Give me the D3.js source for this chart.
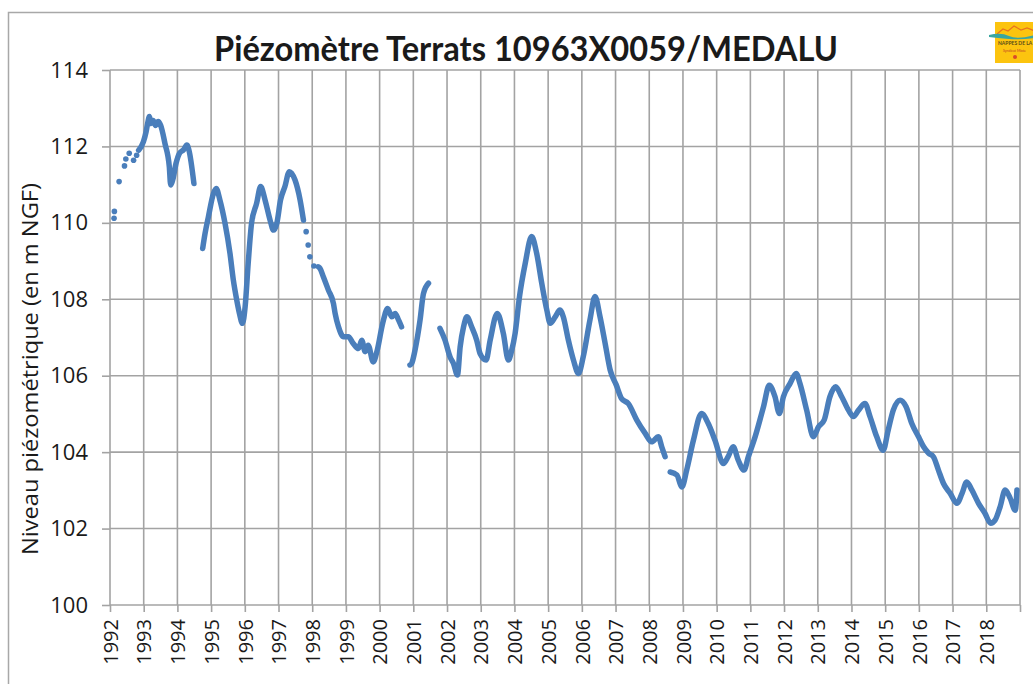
<!DOCTYPE html>
<html>
<head>
<meta charset="utf-8">
<script src="https://cdn.jsdelivr.net/npm/d3@7"></script>
<style>
  html, body { margin: 0; padding: 0; background: #ffffff; }
  svg { display: block; }
</style>
</head>
<body>
<svg id="chart" width="1033" height="684"></svg>
<script>
// ---------------- DATA (decimal year, level in m NGF) ----------------
const titleText = "Piézomètre Terrats 10963X0059/MEDALU";
const yAxisTitle = "Niveau piézométrique (en m NGF)";
const yearTicks = d3.range(1992, 2020);           // gridlines 1992..2019
const yearLabels = d3.range(1992, 2019);          // labels 1992..2018
const levelTicks = [100, 102, 104, 106, 108, 110, 112, 114];

// isolated measurements (drawn as dots)
const dots1992 = [[1992.12,110.12],[1992.13,110.3],[1992.27,111.08],[1992.43,111.49],[1992.47,111.67],
  [1992.57,111.82],[1992.70,111.64],[1992.79,111.77]];
const dots1998 = [[1997.82,109.77],[1997.88,109.42],[1997.93,109.11],[1998.05,108.87]];

// continuous records
const seg1993 = [[1992.85,111.9],[1992.99,112.12],[1993.07,112.38],[1993.12,112.62],[1993.17,112.78],
  [1993.22,112.6],[1993.28,112.68],[1993.35,112.55],[1993.43,112.65],[1993.50,112.56],[1993.63,112.08],
  [1993.76,111.47],[1993.80,110.99],[1993.86,111.12],[1993.96,111.56],[1994.06,111.82],[1994.18,111.91],
  [1994.28,112.04],[1994.34,111.91],[1994.49,111.03]];
const seg1995 = [[1994.75,109.33],[1994.82,109.72],[1994.92,110.16],[1995.07,110.77],[1995.15,110.90],
  [1995.26,110.60],[1995.41,110.0],[1995.56,109.2],[1995.66,108.5],[1995.76,107.98],[1995.84,107.63],
  [1995.93,107.37],[1996.01,107.81],[1996.10,108.94],[1996.20,109.99],[1996.35,110.51],[1996.47,110.95],
  [1996.60,110.60],[1996.75,110.07],[1996.85,109.81],[1996.95,109.99],[1997.06,110.60],[1997.19,110.95],
  [1997.32,111.34],[1997.49,111.12],[1997.64,110.60],[1997.74,110.07]];
const seg1998 = [[1998.18,108.85],[1998.23,108.81],[1998.33,108.59],[1998.48,108.24],[1998.63,107.89],
  [1998.68,107.63],[1998.78,107.28],[1998.93,107.02],[1999.07,107.02],[1999.22,106.84],[1999.37,106.71],
  [1999.47,106.93],[1999.57,106.63],[1999.66,106.80],[1999.81,106.36],[1999.93,106.67],[2000.09,107.37],
  [2000.24,107.76],[2000.36,107.54],[2000.46,107.63],[2000.56,107.46],[2000.65,107.28]];
const seg2001 = [[2000.90,106.28],[2000.95,106.32],[2001.05,106.67],[2001.20,107.46],[2001.30,108.15],
  [2001.45,108.42]];
const seg2002 = [[2001.79,107.24],[2001.94,106.93],[2002.09,106.49],[2002.19,106.32],[2002.31,106.02],
  [2002.39,106.76],[2002.49,107.28],[2002.59,107.54],[2002.73,107.28],[2002.88,106.93],[2002.98,106.58],
  [2003.16,106.41],[2003.28,106.93],[2003.49,107.63],[2003.67,107.11],[2003.82,106.41],[2003.92,106.67],
  [2004.02,107.11],[2004.15,108.07],[2004.32,108.94],[2004.51,109.64],[2004.66,109.20],[2004.81,108.42],
  [2004.96,107.72],[2005.06,107.37],[2005.21,107.54],[2005.35,107.72],[2005.45,107.54],[2005.60,106.93],
  [2005.75,106.41],[2005.90,106.06],[2006.04,106.49],[2006.24,107.46],[2006.39,108.07],[2006.54,107.54],
  [2006.69,106.85],[2006.84,106.15],[2007.02,105.76],[2007.18,105.40],[2007.38,105.27],[2007.63,104.84],
  [2007.88,104.49],[2008.07,104.27],[2008.27,104.40],[2008.37,104.14],[2008.47,103.88]];
const seg2009 = [[2008.62,103.48],[2008.82,103.40],[2008.97,103.09],[2009.11,103.53],[2009.31,104.31],
  [2009.55,105.01],[2009.75,104.75],[2009.95,104.31],[2010.20,103.70],[2010.34,103.88],[2010.49,104.14],
  [2010.64,103.79],[2010.81,103.53],[2010.94,103.88],[2011.14,104.40],[2011.39,105.19],[2011.56,105.75],
  [2011.73,105.45],[2011.86,105.01],[2011.98,105.45],[2012.18,105.80],[2012.36,106.06],[2012.47,105.80],
  [2012.67,105.10],[2012.87,104.40],[2013.02,104.66],[2013.19,104.84],[2013.36,105.45],[2013.53,105.71],
  [2013.71,105.45],[2013.91,105.10],[2014.06,104.93],[2014.21,105.10],[2014.40,105.27],[2014.55,104.93],
  [2014.75,104.40],[2014.94,104.05],[2015.09,104.58],[2015.24,105.10],[2015.44,105.36],[2015.62,105.19],
  [2015.79,104.75],[2015.99,104.40],[2016.14,104.14],[2016.29,103.97],[2016.43,103.88],[2016.58,103.53],
  [2016.73,103.18],[2016.93,102.92],[2017.13,102.66],[2017.28,102.92],[2017.42,103.22],[2017.57,103.01],
  [2017.77,102.66],[2017.96,102.40],[2018.13,102.14],[2018.26,102.22],[2018.41,102.57],[2018.56,103.01],
  [2018.71,102.79],[2018.86,102.48],[2018.91,103.01]];

const segments = [seg1993, seg1995, seg1998, seg2001, seg2002, seg2009];
const dots = dots1992.concat(dots1998);

// ---------------- LAYOUT ----------------
const svg = d3.select("#chart");
const plot = { left: 110, right: 1020, top: 70, bottom: 605 };
const gridColor = "#a3a3a3";
const seriesColor = "#4a7ebb";

const x = d3.scaleLinear().domain([1992, 2019]).range([plot.left, plot.right]);
const y = d3.scaleLinear().domain([100, 114]).range([plot.bottom, plot.top]);

// chart frame
svg.append("rect").attr("x", 8.5).attr("y", 12.5).attr("width", 1100).attr("height", 800)
  .attr("fill", "#fff").attr("stroke", "#a8a8a8").attr("stroke-width", 1.5);

// title
svg.append("text").attr("x", 526).attr("y", 61).attr("text-anchor", "middle")
  .attr("font-family", "Lato, 'Open Sans', sans-serif").attr("font-weight", "bold")
  .attr("font-size", 35).attr("fill", "#1a1a1a")
  .attr("textLength", 624).attr("lengthAdjust", "spacingAndGlyphs")
  .text(titleText);

// logo (approximation)
const logo = svg.append("g").attr("transform", "translate(995,22)");
logo.append("rect").attr("width", 40).attr("height", 41).attr("fill", "#fcc40f");
logo.append("path").attr("d", "M2,12 L8,7 L13,9 L19,4 L26,8 L32,6 L40,9")
  .attr("fill", "none").attr("stroke", "#e8731f").attr("stroke-width", 1.2);
logo.append("path").attr("d", "M-6,13 Q6,10 14,14 T40,13 L40,16 Q26,18 14,17 T-6,15 Z")
  .attr("fill", "#3aa6a0");
logo.append("text").attr("x", 3).attr("y", 23).attr("font-family", "Lato, sans-serif")
  .attr("font-weight", "bold").attr("font-size", 5).attr("fill", "#5a4a1a").text("NAPPES DE LA");
logo.append("text").attr("x", 8).attr("y", 30).attr("font-family", "Lato, sans-serif")
  .attr("font-size", 3.5).attr("fill", "#c0392b").text("Syndicat Mixte");
logo.append("circle").attr("cx", 20).attr("cy", 35).attr("r", 2).attr("fill", "#d84a2a");

// horizontal gridlines
svg.append("g").selectAll("line").data(levelTicks).join("line")
  .attr("x1", plot.left).attr("x2", plot.right)
  .attr("y1", d => y(d)).attr("y2", d => y(d))
  .attr("stroke", gridColor).attr("stroke-width", 1.6);

// vertical gridlines
svg.append("g").selectAll("line").data(yearTicks).join("line")
  .attr("x1", d => x(d)).attr("x2", d => x(d))
  .attr("y1", plot.top).attr("y2", plot.bottom)
  .attr("stroke", gridColor).attr("stroke-width", 1.6);

// y axis
const yAxis = svg.append("g").attr("transform", `translate(${plot.left},0)`)
  .call(d3.axisLeft(y).tickValues(levelTicks).tickSize(8).tickPadding(14).tickFormat(d3.format("d")));
yAxis.select(".domain").remove();
yAxis.selectAll(".tick line").attr("stroke", gridColor).attr("stroke-width", 1.6);
yAxis.selectAll(".tick text").attr("font-family", "'Open Sans', sans-serif").attr("font-size", 22)
  .attr("fill", "#1a1a1a");

// x axis
const xAxis = svg.append("g").attr("transform", `translate(0,${plot.bottom})`)
  .call(d3.axisBottom(x).tickValues(yearTicks).tickSize(7)
    .tickFormat(d => yearLabels.includes(d) ? String(d) : ""));
xAxis.select(".domain").remove();
xAxis.selectAll(".tick line").attr("stroke", gridColor).attr("stroke-width", 1.6);
xAxis.selectAll(".tick text")
  .attr("transform", "rotate(-90)")
  .attr("x", -14).attr("y", 0).attr("dy", "0.36em")
  .style("text-anchor", "end")
  .attr("font-family", "'Open Sans', sans-serif").attr("font-size", 20).attr("fill", "#1a1a1a");

// y axis title
svg.append("text").attr("transform", "translate(38,369) rotate(-90)")
  .attr("text-anchor", "middle")
  .attr("font-family", "'Open Sans', sans-serif").attr("font-size", 21).attr("fill", "#1a1a1a")
  .attr("textLength", 372).attr("lengthAdjust", "spacingAndGlyphs")
  .text(yAxisTitle);

// series
const line = d3.line().x(d => x(d[0])).y(d => y(d[1])).curve(d3.curveMonotoneX);
svg.append("g").selectAll("path").data(segments).join("path")
  .attr("d", line)
  .attr("fill", "none").attr("stroke", seriesColor).attr("stroke-width", 5.5)
  .attr("stroke-linejoin", "round").attr("stroke-linecap", "round");

svg.append("g").selectAll("circle").data(dots).join("circle")
  .attr("cx", d => x(d[0])).attr("cy", d => y(d[1])).attr("r", 2.8)
  .attr("fill", seriesColor);
</script>
</body>
</html>
